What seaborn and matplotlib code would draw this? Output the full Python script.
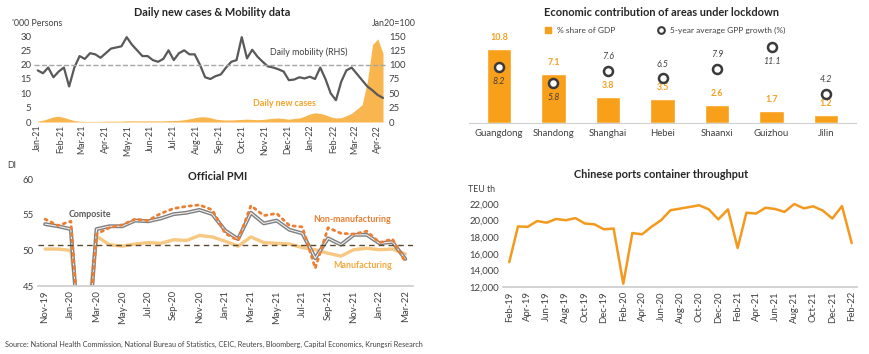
import numpy as np
import pandas as pd
import seaborn as sns
import matplotlib.pyplot as plt
import matplotlib.dates as mdates
from matplotlib.lines import Line2D

# ---- data ----
# weekly readings, Jan-21 .. Apr-22
week_dates = pd.date_range('2021-01-01', periods=67, freq='7D')
daily_cases = [0.3, 0.6, 1.2, 1.8, 2.0, 1.6, 1.0,
               0.5, 0.3, 0.2, 0.2, 0.2, 0.2,
               0.3, 0.3, 0.3, 0.3, 0.4, 0.4, 0.4, 0.4, 0.4, 0.4, 0.4, 0.4, 0.5,
               0.5, 0.6, 0.8, 1.1, 1.5, 1.8, 1.8, 1.5, 1.0,
               0.8, 0.7, 0.7, 0.8, 0.9, 1.0, 0.9, 0.8, 0.9, 1.1,
               1.3, 1.4, 1.2, 1.0, 1.2, 1.4,
               2.0, 2.8, 3.2, 3.0, 2.5, 1.8,
               1.4, 1.5, 2.2,
               3.0, 4.5, 6.0, 14.0, 27.0, 29.0, 24.0]
mobility = [90, 85, 95, 78, 88, 95, 62, 95, 115, 110,
            120, 118, 112, 120, 128, 130, 132, 148, 135, 125,
            115, 115, 108, 105, 110, 125, 108, 120, 125, 118,
            118, 100, 78, 75, 80, 83, 95, 105, 108, 148,
            111, 126, 114, 105, 97, 95, 92, 88, 73, 74,
            78, 76, 79, 75, 95, 75, 50, 38, 70, 90,
            95, 84, 73, 62, 55, 47, 42]

provinces = ['Guangdong', 'Shandong', 'Shanghai', 'Hebei', 'Shaanxi', 'Guizhou', 'Jilin']
gdp_share = [10.8, 7.1, 3.8, 3.5, 2.6, 1.7, 1.2]
gpp_growth = [8.2, 5.8, 7.6, 6.5, 7.9, 11.1, 4.2]

pmi_months = ['Nov-19', 'Dec-19', 'Jan-20', 'Feb-20', 'Mar-20', 'Apr-20', 'May-20', 'Jun-20',
              'Jul-20', 'Aug-20', 'Sep-20', 'Oct-20', 'Nov-20', 'Dec-20', 'Jan-21', 'Feb-21',
              'Mar-21', 'Apr-21', 'May-21', 'Jun-21', 'Jul-21', 'Aug-21', 'Sep-21', 'Oct-21',
              'Nov-21', 'Dec-21', 'Jan-22', 'Feb-22', 'Mar-22']
pmi_mfg = [50.2, 50.2, 50.0, 35.7, 52.0, 50.8, 50.6, 50.9, 51.1, 51.0, 51.5, 51.4, 52.1, 51.9,
           51.3, 50.6, 51.9, 51.1, 51.0, 50.9, 50.4, 50.1, 49.6, 49.2, 50.1, 50.3, 50.1, 50.2, 49.5]
pmi_nonmfg = [54.4, 53.5, 54.1, 29.6, 52.3, 53.2, 53.6, 54.4, 54.2, 55.2, 55.9, 56.2, 56.4, 55.7,
              52.4, 51.4, 56.3, 54.9, 55.2, 53.5, 53.3, 47.5, 53.2, 52.4, 52.3, 52.7, 51.1, 51.6, 48.4]
pmi_composite = [53.7, 53.4, 53.0, 28.9, 53.0, 53.4, 53.4, 54.2, 54.1, 54.5, 55.1, 55.3, 55.7, 55.1,
                 52.8, 51.6, 55.3, 53.8, 54.2, 52.9, 52.4, 48.9, 51.7, 50.8, 52.2, 52.2, 51.0, 51.2, 48.8]

port_months = pd.date_range('2019-02-01', '2022-02-01', freq='MS')
teu = [15000, 19300, 19250, 19950, 19750, 20200, 20050, 20300, 19650, 19550, 18950, 19050,
       12400, 18500, 18350, 19250, 20050, 21250, 21450, 21650, 21850, 21350, 20150, 21350,
       16700, 20950, 20850, 21550, 21400, 21050, 22000, 21480, 21720, 21200, 20250, 21750, 17300]

sns.set_style('white')
plt.rcParams['font.family'] = ['Lato', 'DejaVu Sans']

fig = plt.figure(figsize=(8.7, 3.54), dpi=100)
W, H = 870, 354


def box(x0, y0, x1, y1):
    return [x0 / W, 1 - y1 / H, (x1 - x0) / W, (y1 - y0) / H]


dark = '#404040'
tick_fs = 6.9
title_fs = 7.9
lab_fs = 6.4

# 1. daily cases & mobility
ax1 = fig.add_axes(box(34, 36, 386, 122))
ax1.fill_between(week_dates, daily_cases, color='#F9B64E', lw=0)
ax1.set_ylim(0, 30)
ax1.set_yticks(range(0, 31, 5))
ax1b = ax1.twinx()
sns.lineplot(x=week_dates, y=mobility, ax=ax1b, color='#595959', lw=1.6)
ax1b.axhline(100, color='#A6A6A6', ls='--', lw=1)
ax1b.set_ylim(0, 150)
ax1b.set_yticks(range(0, 151, 25))
ax1.set_xlim(pd.Timestamp('2020-12-27'), pd.Timestamp('2022-04-12'))
ax1.xaxis.set_major_locator(mdates.MonthLocator())
ax1.xaxis.set_major_formatter(mdates.DateFormatter('%b-%y'))
for a in (ax1, ax1b):
    for s in a.spines.values():
        s.set_visible(False)
    a.tick_params(length=0, labelsize=tick_fs, colors=dark, pad=2)
    a.set_ylabel('')
    a.set_xlabel('')
ax1.tick_params(axis='x', rotation=90, labelsize=6.4)
ax1b.text(pd.Timestamp('2021-12-29'), 122, 'Daily mobility (RHS)', fontsize=lab_fs, color=dark,
          ha='center', va='center')
ax1.text(pd.Timestamp('2021-11-27'), 6.3, 'Daily new cases', fontsize=lab_fs, color='#F5A32A',
         fontweight='bold', ha='center', va='center')
fig.text(212 / W, 1 - 12 / H, 'Daily new cases & Mobility data', fontsize=title_fs,
         fontweight='bold', ha='center', va='center')
fig.text(12 / W, 1 - 23 / H, "'000 Persons", fontsize=lab_fs, color=dark, va='center')
fig.text(394 / W, 1 - 24 / H, 'Jan20=100', fontsize=lab_fs, color=dark, va='center', ha='center')

# 2. economic contribution
ax2 = fig.add_axes(box(469, 39.4, 856, 123))
bar_color = '#F9A01B'
sns.barplot(x=provinces, y=gdp_share, color=bar_color, width=0.45, saturation=1, ax=ax2)
ax2.scatter(range(len(provinces)), gpp_growth, s=42, facecolor='white', edgecolor='#3A3A3A',
            linewidth=1.8, zorder=5)
ax2.set_ylim(0, 12.2)
ax2.set_yticks([])
for s in ['top', 'right', 'left']:
    ax2.spines[s].set_visible(False)
ax2.spines['bottom'].set_color('#D0D0D0')
ax2.tick_params(axis='x', length=0, labelsize=6.9, colors=dark, pad=4)
for i, v in enumerate(gdp_share):
    ax2.annotate(f'{v:.1f}', (i, v), xytext=(0, 5), textcoords='offset points', ha='center',
                 va='bottom', fontsize=lab_fs, fontweight='bold', color='#F5A020')
label_below = [True, True, False, False, False, True, False]
for i, v in enumerate(gpp_growth):
    off = -7 if label_below[i] else 7
    ax2.annotate(f'{v:.1f}', (i, v), xytext=(0, off), textcoords='offset points', ha='center',
                 va='top' if label_below[i] else 'bottom', fontsize=lab_fs, fontstyle='italic',
                 color=dark)
handles = [Line2D([], [], marker='s', ls='', color=bar_color, markersize=4.5),
           Line2D([], [], marker='o', ls='', markerfacecolor='white', markeredgecolor='#3A3A3A',
                  markeredgewidth=1.5, markersize=4.8)]
ax2.legend(handles, ['% share of GDP', '5-year average GPP growth (%)'], ncol=2, frameon=False,
           fontsize=6, loc='center', bbox_to_anchor=(0.5, 1.11), handletextpad=0.1,
           columnspacing=4.5, labelcolor=dark)
fig.text(662 / W, 1 - 13 / H, 'Economic contribution of areas under lockdown', fontsize=title_fs,
         fontweight='bold', ha='center', va='center')

# 3. PMI
ax3 = fig.add_axes(box(38, 179.3, 413, 286))
idx = np.arange(len(pmi_months))
sns.lineplot(x=idx, y=pmi_mfg, ax=ax3, color='#F7C882', lw=2.4)
sns.lineplot(x=idx, y=pmi_composite, ax=ax3, color='#7F7F7F', lw=2.8)
sns.lineplot(x=idx, y=pmi_composite, ax=ax3, color='#F2F2F2', lw=0.8)
ax3.plot(idx, pmi_nonmfg, color='#ED7D31', lw=2, ls=(0, (0.8, 1.6)), dash_capstyle='round')
ax3.axhline(50.7, color='#5C4A2E', ls='--', lw=1, dashes=(4, 3))
ax3.set_ylim(45, 60)
ax3.set_yticks([45, 50, 55, 60])
ax3.set_xlim(-0.55, 28.6)
ax3.set_xticks(idx[::2])
ax3.set_xticklabels(pmi_months[::2], rotation=90)
for s in ['top', 'right', 'left']:
    ax3.spines[s].set_visible(False)
ax3.spines['bottom'].set_color('#D0D0D0')
ax3.spines['bottom'].set_linewidth(1.3)
ax3.tick_params(length=0, labelsize=tick_fs, colors=dark, pad=3)
ax3.text(3.5, 55.1, 'Composite', fontsize=lab_fs, fontweight='bold', color='#595959',
         ha='center', va='center')
ax3.text(23.9, 54.4, 'Non-manufacturing', fontsize=lab_fs, fontweight='bold', color='#ED7D31',
         ha='center', va='center')
ax3.text(24.7, 47.95, 'Manufacturing', fontsize=lab_fs, fontweight='bold', color='#F2A93B',
         ha='center', va='center')
fig.text(218 / W, 1 - 176 / H, 'Official PMI', fontsize=title_fs, fontweight='bold',
         ha='center', va='center')
fig.text(7 / W, 1 - 165 / H, 'DI', fontsize=lab_fs, color=dark, va='center')

# 4. ports throughput
ax4 = fig.add_axes(box(503, 200.7, 857, 287))
sns.lineplot(x=port_months, y=teu, ax=ax4, color='#F39A1E', lw=1.8)
ax4.set_ylim(12000, 22400)
ax4.set_yticks(range(12000, 22001, 2000))
ax4.yaxis.set_major_formatter(plt.FuncFormatter(lambda v, p: f'{int(v):,}'))
ax4.set_xlim(pd.Timestamp('2019-01-12'), pd.Timestamp('2022-02-18'))
ax4.set_xticks(port_months[::2])
ax4.set_xticklabels([d.strftime('%b-%y') for d in port_months[::2]], rotation=90)
ax4.set_xlabel('')
for s in ['top', 'right', 'left']:
    ax4.spines[s].set_visible(False)
ax4.spines['bottom'].set_color('#D0D0D0')
ax4.spines['bottom'].set_linewidth(1.3)
ax4.tick_params(length=0, labelsize=tick_fs, colors=dark, pad=3)
fig.text(661 / W, 1 - 175 / H, 'Chinese ports container throughput', fontsize=title_fs,
         fontweight='bold', ha='center', va='center')
fig.text(468 / W, 1 - 189 / H, 'TEU th', fontsize=lab_fs, color=dark, va='center')

fig.text(5 / W, 1 - 344 / H, 'Source: National Health Commission, National Bureau of Statistics, '
         'CEIC, Reuters, Bloomberg, Capital Economics, Krungsri Research',
         fontsize=5.2, color=dark, va='center')

fig.savefig('out.png', dpi=100)
